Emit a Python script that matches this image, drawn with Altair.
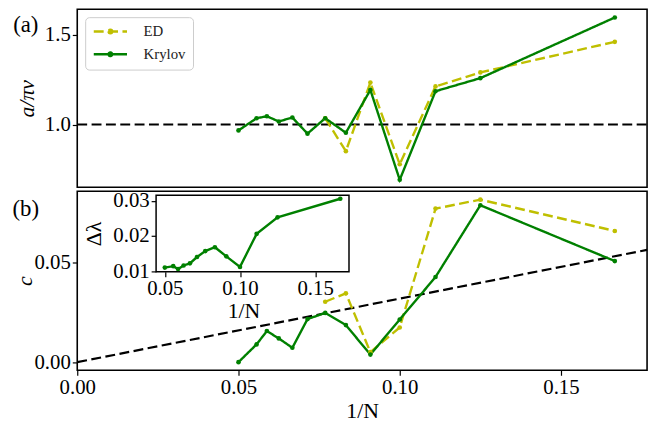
import altair as alt
import pandas as pd

# ---- data ----
inv_N = [0.05, 0.0556, 0.0588, 0.0625, 0.0667, 0.0714, 0.0769, 0.0833, 0.0909, 0.1, 0.1111, 0.125, 0.1667]
inv_N_ed = [0.0769, 0.0833, 0.0909, 0.1, 0.1111, 0.125, 0.1667]

a_krylov = [0.967, 1.035, 1.046, 1.017, 1.039, 0.949, 1.035, 0.954, 1.193, 0.691, 1.186, 1.259, 1.598]
a_ed = [1.035, 0.851, 1.234, 0.778, 1.213, 1.291, 1.462]

c_krylov = [0.0000, 0.0089, 0.0156, 0.0119, 0.0072, 0.0216, 0.0247, 0.0186, 0.0038, 0.0214, 0.0427, 0.0787, 0.0507]
c_ed = [0.0303, 0.0345, 0.0050, 0.0174, 0.0770, 0.0815, 0.0658]

dl_krylov = [0.0110, 0.0114, 0.0106, 0.0116, 0.0122, 0.0140, 0.0157, 0.0168, 0.0142, 0.0112, 0.0206, 0.0253, 0.0306]

ref_x = [0.0, 0.1767]
ref_a = [1.0, 1.0]
ref_c = [0.0, 0.0563]

x_lim = [0.0, 0.1767]
a_lim = [0.649, 1.644]
c_lim = [-0.0041, 0.0857]
inset_x_lim = [0.0442, 0.1725]
inset_y_lim = [0.0098, 0.0316]

series_names = ["ED", "Krylov"]
series_colors = ["#bfbf00", "#008000"]

FONT = "Liberation Serif"
W = 576
H_TOP = 180
H_BOT = 181

top_df = pd.DataFrame({"x": inv_N_ed + inv_N, "y": a_ed + a_krylov,
                       "series": ["ED"] * len(inv_N_ed) + ["Krylov"] * len(inv_N)})
bot_df = pd.DataFrame({"x": inv_N_ed + inv_N, "y": c_ed + c_krylov,
                       "series": ["ED"] * len(inv_N_ed) + ["Krylov"] * len(inv_N)})
inset_df = pd.DataFrame({"x": inv_N, "y": dl_krylov})
ref_top_df = pd.DataFrame({"x": ref_x, "y": ref_a})
ref_bot_df = pd.DataFrame({"x": ref_x, "y": ref_c})
frame_df = pd.DataFrame({"x0": [inset_x_lim[0]], "x1": [inset_x_lim[1]],
                         "y0": [inset_y_lim[0]], "y1": [inset_y_lim[1]]})

legend_path = "M-2.8,0H2.8M-0.3,0A0.3,0.3,0,1,0,0.3,0A0.3,0.3,0,1,0,-0.3,0"
leg = alt.Legend(title=None, orient="top-left", offset=8, padding=7,
                 fillColor="white", strokeColor="#cccccc", cornerRadius=4,
                 symbolType=legend_path, symbolSize=144, symbolStrokeWidth=2.5,
                 symbolOffset=11, labelOffset=26, rowPadding=7,
                 labelFont=FONT, labelFontSize=15, labelColor="#222222")

def color_enc(show_legend):
    return alt.Color("series:N", scale=alt.Scale(domain=series_names, range=series_colors),
                     legend=leg if show_legend else None)

def dash_enc(show_legend):
    return alt.StrokeDash("series:N", scale=alt.Scale(domain=series_names, range=[[10, 4.5], [1, 0]]),
                          legend=leg if show_legend else None)

tick_axis = dict(labelFont=FONT, labelFontSize=21, titleFont=FONT, titleFontSize=22,
                 titleFontWeight="normal", labelFlush=False,
                 grid=False, domain=False, tickColor="black", tickSize=5, labelColor="black",
                 titleColor="black", tickWidth=1.2)

# ---------- top panel ----------
xs_top = alt.X("x:Q", scale=alt.Scale(domain=x_lim, nice=False, zero=False), axis=None)
ys_top = alt.Y("y:Q", scale=alt.Scale(domain=a_lim, nice=False, zero=False),
               axis=alt.Axis(values=[1.0, 1.5], format=".1f", title="a/πv",
                             titleFontStyle="italic", titleX=-51, titleBaseline="middle",
                             titleAngle=-90, labelPadding=2, **tick_axis))

ref_top = alt.Chart(ref_top_df).mark_line(color="black", strokeWidth=2.2, strokeDash=[10, 4.5]).encode(
    x=xs_top, y=ys_top)
lines_top = alt.Chart(top_df).mark_line(strokeWidth=2.4, point=alt.OverlayMarkDef(filled=True, size=22)).encode(
    x=xs_top, y=ys_top, color=color_enc(True), strokeDash=dash_enc(True),
    order=alt.Order("x:Q"))
label_a = alt.Chart(pd.DataFrame({"t": ["(a)"]})).mark_text(
    font=FONT, fontSize=23, align="center", baseline="middle", color="black").encode(
    x=alt.value(-52), y=alt.value(16), text="t:N")

top = alt.layer(ref_top, lines_top, label_a).properties(width=W, height=H_TOP)

# ---------- bottom panel ----------
xs_bot = alt.X("x:Q", scale=alt.Scale(domain=x_lim, nice=False, zero=False),
               axis=alt.Axis(values=[0.0, 0.05, 0.10, 0.15], format=".2f", title="1/N",
                             labelPadding=1, titlePadding=4, **tick_axis))
ys_bot = alt.Y("y:Q", scale=alt.Scale(domain=c_lim, nice=False, zero=False),
               axis=alt.Axis(values=[0.0, 0.05], format=".2f", title="c",
                             titleFontStyle="italic", titleX=-53, titleBaseline="middle",
                             titleAngle=-90, labelPadding=2, **tick_axis))

ref_bot = alt.Chart(ref_bot_df).mark_line(color="black", strokeWidth=2.2, strokeDash=[10, 4.5]).encode(
    x=xs_bot, y=ys_bot)
lines_bot = alt.Chart(bot_df).mark_line(strokeWidth=2.4, point=alt.OverlayMarkDef(filled=True, size=22)).encode(
    x=xs_bot, y=ys_bot, color=color_enc(False), strokeDash=dash_enc(False),
    order=alt.Order("x:Q"))
label_b = alt.Chart(pd.DataFrame({"t": ["(b)"]})).mark_text(
    font=FONT, fontSize=23, align="center", baseline="middle", color="black").encode(
    x=alt.value(-52), y=alt.value(18), text="t:N")

bottom_main = alt.layer(ref_bot, lines_bot, label_b)

# inset
inset_left, inset_right = 79.7, 274.7
inset_top, inset_bottom = 4.0, 81.4
xi_scale = alt.Scale(domain=inset_x_lim, range=[inset_left, inset_right], nice=False, zero=False)
yi_scale = alt.Scale(domain=inset_y_lim, range=[inset_bottom, inset_top], nice=False, zero=False)
xi_axis = alt.Axis(values=[0.05, 0.10, 0.15], format=".2f", title="1/N", orient="bottom",
                   offset=-(H_BOT - inset_bottom), labelPadding=1, titlePadding=2,
                   titleX=168, **tick_axis)
yi_axis = alt.Axis(values=[0.01, 0.02, 0.03], format=".2f", title="Δλ", orient="left",
                   offset=-inset_left, titleX=-63, titleBaseline="middle", titleAngle=-90,
                   labelPadding=2, **tick_axis)

frame = alt.Chart(frame_df).mark_rect(fill="white", stroke="black", strokeWidth=1.5).encode(
    x=alt.X("x0:Q", scale=xi_scale, axis=xi_axis), x2="x1:Q",
    y=alt.Y("y0:Q", scale=yi_scale, axis=yi_axis), y2="y1:Q")
inset_line = alt.Chart(inset_df).mark_line(color="#008000", strokeWidth=2.4,
                                           point=alt.OverlayMarkDef(filled=True, size=22, color="#008000")).encode(
    x=alt.X("x:Q", scale=xi_scale), y=alt.Y("y:Q", scale=yi_scale))
inset = alt.layer(frame, inset_line)

bottom = alt.layer(bottom_main, inset).resolve_scale(x="independent", y="independent").properties(
    width=W, height=H_BOT)

chart = alt.vconcat(top, bottom, spacing=0).properties(
    padding={"left": 3, "right": 0, "top": -2, "bottom": 0}
).configure(font=FONT, background="white").configure_view(stroke="black", strokeWidth=1.6)

chart.save("out.html", embed_options={"renderer": "svg", "actions": False})
